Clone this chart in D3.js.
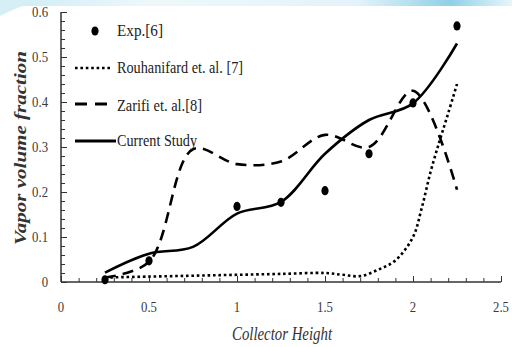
<!DOCTYPE html>
<html>
<head>
<meta charset="utf-8">
<script src="https://cdn.jsdelivr.net/npm/d3@7"></script>
<style>
  html, body { margin: 0; padding: 0; background: #fff; }
  svg { display: block; }
</style>
</head>
<body>
<svg id="chart" width="512" height="347"></svg>
<script>
// ---- data ----
const expX = [0.25, 0.5, 1.0, 1.25, 1.5, 1.75, 2.0, 2.25];
const expY = [0.005, 0.047, 0.168, 0.177, 0.203, 0.285, 0.398, 0.569];

const rouX = [0.25, 0.5, 0.75, 1.0, 1.25, 1.5, 1.6, 1.7, 1.8, 1.9, 2.0, 2.05, 2.1, 2.15, 2.2, 2.25];
const rouY = [0.010, 0.012, 0.014, 0.016, 0.018, 0.020, 0.016, 0.013, 0.027, 0.048, 0.100, 0.165, 0.245, 0.312, 0.375, 0.440];

const zarX = [0.25, 0.5, 0.75, 1.0, 1.25, 1.5, 1.75, 2.0, 2.25];
const zarY = [0.010, 0.045, 0.295, 0.262, 0.268, 0.327, 0.300, 0.425, 0.205];

const curX = [0.25, 0.5, 0.75, 1.0, 1.25, 1.5, 1.75, 2.0, 2.25];
const curY = [0.021, 0.063, 0.078, 0.152, 0.178, 0.285, 0.360, 0.397, 0.530];

const xTicks = [0, 0.5, 1, 1.5, 2, 2.5];
const xTickLabels = ["0", "0.5", "1", "1.5", "2", "2.5"];
const yTicks = [0, 0.1, 0.2, 0.3, 0.4, 0.5, 0.6];
const yTickLabels = ["0", "0.1", "0.2", "0.3", "0.4", "0.5", "0.6"];

const legendLabels = ["Exp.[6]", "Rouhanifard et. al. [7]", "Zarifi et. al.[8]", "Current Study"];
const xTitle = "Collector Height";
const yTitle = "Vapor volume fraction";

// ---- drawing ----
const svg = d3.select("#chart");
const W = 512, H = 347;

// decorative top band
const defs = svg.append("defs");
const g1 = defs.append("linearGradient").attr("id", "topband").attr("x1", 0).attr("x2", 1).attr("y1", 0).attr("y2", 0);
g1.append("stop").attr("offset", "0%").attr("stop-color", "#cdebf5");
g1.append("stop").attr("offset", "30%").attr("stop-color", "#eef8fb");
g1.append("stop").attr("offset", "70%").attr("stop-color", "#e3f3f9");
g1.append("stop").attr("offset", "88%").attr("stop-color", "#8fd0e8");
g1.append("stop").attr("offset", "100%").attr("stop-color", "#e8f6fb");
svg.append("rect").attr("x", 0).attr("y", 0).attr("width", W).attr("height", 6).attr("fill", "url(#topband)");
svg.append("path").attr("d", "M0,0 L40,0 Q20,6 0,16 Z").attr("fill", "#d6eef6");

const x = d3.scaleLinear().domain([0, 2.5]).range([61, 501]);
const y = d3.scaleLinear().domain([0, 0.6]).range([282, 12]);

const axisColor = "#333";

// x axis (ticks pointing up)
const xAxis = svg.append("g").attr("transform", `translate(0,${y(0)})`);
xAxis.call(d3.axisTop(x).tickValues(d3.range(0, 26).map(d => d / 10)).tickSize(4).tickFormat(""))
  .call(g => g.select(".domain").remove());
xAxis.selectAll(".tick line").attr("stroke", axisColor).attr("stroke-width", 1)
  .attr("y2", d => (Math.abs(d * 2 - Math.round(d * 2)) < 1e-6) ? -6 : -4);
xAxis.append("line").attr("x1", x(0)).attr("x2", x(2.5)).attr("y1", 0).attr("y2", 0)
  .attr("stroke", axisColor).attr("stroke-width", 1.5);

// y axis (ticks pointing right)
const yAxis = svg.append("g").attr("transform", `translate(${x(0)},0)`);
yAxis.call(d3.axisRight(y).tickValues(d3.range(0, 31).map(d => d / 50)).tickSize(4).tickFormat(""))
  .call(g => g.select(".domain").remove());
yAxis.selectAll(".tick line").attr("stroke", axisColor).attr("stroke-width", 1)
  .attr("x2", d => (Math.abs(d * 10 - Math.round(d * 10)) < 1e-6) ? 6 : 4);
yAxis.append("line").attr("x1", 0).attr("x2", 0).attr("y1", y(0)).attr("y2", y(0.6))
  .attr("stroke", axisColor).attr("stroke-width", 1.5);

// condense helper
function condense(sel, factor) {
  sel.each(function () {
    const w = this.getComputedTextLength();
    d3.select(this).attr("textLength", w * factor).attr("lengthAdjust", "spacingAndGlyphs");
  });
}

// tick labels
svg.append("g").selectAll("text").data(xTicks).join("text")
  .attr("x", d => x(d)).attr("y", 312)
  .attr("text-anchor", "middle")
  .attr("font-family", "Liberation Serif, serif").attr("font-size", 15).attr("fill", "#3a3a3a")
  .text((d, i) => xTickLabels[i]).call(condense, 0.85);
svg.append("g").selectAll("text").data(yTicks).join("text")
  .attr("x", 48).attr("y", d => y(d) + 5)
  .attr("text-anchor", "end")
  .attr("font-family", "Liberation Serif, serif").attr("font-size", 15).attr("fill", "#3a3a3a")
  .text((d, i) => yTickLabels[i]).call(condense, 0.85);

// titles
svg.append("text").attr("x", 282).attr("y", 340).attr("text-anchor", "middle")
  .attr("font-family", "Liberation Serif, serif").attr("font-style", "italic").attr("font-size", 18)
  .attr("fill", "#333").attr("textLength", 100).attr("lengthAdjust", "spacingAndGlyphs")
  .text(xTitle);
svg.append("text").attr("transform", "translate(26,148) rotate(-90)").attr("text-anchor", "middle")
  .attr("font-family", "Liberation Serif, serif").attr("font-style", "italic").attr("font-weight", "bold")
  .attr("font-size", 17).attr("fill", "#333").attr("textLength", 194).attr("lengthAdjust", "spacingAndGlyphs")
  .text(yTitle);

// series lines
const mk = (xs, ys) => xs.map((v, i) => [v, ys[i]]);
const line = d3.line().x(d => x(d[0])).y(d => y(d[1])).curve(d3.curveCatmullRom.alpha(0.5));

svg.append("path").datum(mk(rouX, rouY)).attr("d", line)
  .attr("fill", "none").attr("stroke", "#000").attr("stroke-width", 2.6)
  .attr("stroke-dasharray", "2.6,2.8");
svg.append("path").datum(mk(zarX, zarY)).attr("d", line)
  .attr("fill", "none").attr("stroke", "#000").attr("stroke-width", 2.6)
  .attr("stroke-dasharray", "11,7");
svg.append("path").datum(mk(curX, curY)).attr("d", line)
  .attr("fill", "none").attr("stroke", "#000").attr("stroke-width", 2.6);

// exp markers
svg.append("g").selectAll("ellipse").data(mk(expX, expY)).join("ellipse")
  .attr("cx", d => x(d[0])).attr("cy", d => y(d[1]))
  .attr("rx", 3.6).attr("ry", 4.6).attr("fill", "#000");

// legend
const leg = svg.append("g");
const legY = [31, 68, 104, 141];
const legBase = [36, 73, 111, 146];
const legW = [46, 126, 85, 80];
leg.append("ellipse").attr("cx", 95).attr("cy", legY[0]).attr("rx", 3.6).attr("ry", 4.6).attr("fill", "#000");
leg.append("line").attr("x1", 75).attr("x2", 112).attr("y1", legY[1]).attr("y2", legY[1])
  .attr("stroke", "#000").attr("stroke-width", 2.6).attr("stroke-dasharray", "2.6,2.8");
leg.append("line").attr("x1", 75).attr("x2", 107).attr("y1", legY[2]).attr("y2", legY[2])
  .attr("stroke", "#000").attr("stroke-width", 2.8).attr("stroke-dasharray", "12,8");
leg.append("line").attr("x1", 75).attr("x2", 116).attr("y1", legY[3]).attr("y2", legY[3])
  .attr("stroke", "#000").attr("stroke-width", 2.8);
leg.selectAll("text").data(legendLabels).join("text")
  .attr("x", 117).attr("y", (d, i) => legBase[i])
  .attr("font-family", "Liberation Serif, serif").attr("font-size", 17).attr("fill", "#222")
  .attr("textLength", (d, i) => legW[i]).attr("lengthAdjust", "spacingAndGlyphs")
  .text(d => d);
</script>
</body>
</html>
